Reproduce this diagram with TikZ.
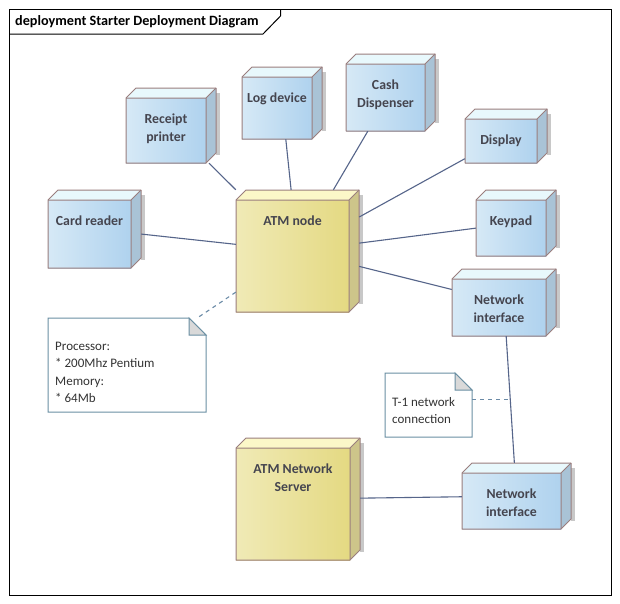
\documentclass[tikz,border=0pt]{standalone}
\usepackage{fontspec}
\setmainfont{Carlito}
\usetikzlibrary{fit}
\definecolor{bluel}{HTML}{D6E9F6}
\definecolor{bluer}{HTML}{AFD2EE}
\definecolor{bluetop}{HTML}{E8F8FC}
\definecolor{blueside}{HTML}{A9C3D6}
\definecolor{yell}{HTML}{F0EAB6}
\definecolor{yelr}{HTML}{E4D982}
\definecolor{yeltop}{HTML}{FBF7C8}
\definecolor{yelside}{HTML}{CDC58A}
\definecolor{shadowc}{HTML}{C8C8C8}
\definecolor{boxborder}{HTML}{9A7E7E}
\definecolor{textc}{HTML}{45454F}
\definecolor{connc}{HTML}{56658A}
\definecolor{notec}{HTML}{6A8FA3}
\definecolor{foldc}{HTML}{D9D9D9}
\definecolor{dashc}{HTML}{6A8AA6}
\tikzset{
  boxline/.style={draw=boxborder, line width=1pt, line join=round},
  boxtext/.style={font=\bfseries\fontsize{13.8}{17.5}\selectfont, text=textc, align=center, inner sep=0pt},
  notetext/.style={font=\fontsize{13}{17.3}\selectfont, text=black!80, align=left, inner sep=0pt},
  noteline/.style={draw=notec, line width=1pt, line join=miter},
  conn/.style={draw=connc, line width=1.1pt},
  noteconn/.style={draw=dashc, line width=1.1pt, dash pattern=on 4pt off 4pt},
}
% #1 name, #2 x1, #3 y1, #4 x2, #5 y2 (front face), #6 colour kind, #7 text
\newcommand\depbox[7]{%
  \fill[shadowc] (#4+10,#3-5) rectangle (#4+14,#5-8);
  \fill[#6top] (#2,#3) -- (#2+10,#3-10) -- (#4+10,#3-10) -- (#4,#3) -- cycle;
  \fill[#6side] (#4,#3) -- (#4+10,#3-10) -- (#4+10,#5-10) -- (#4,#5) -- cycle;
  \shade[left color=#6l, right color=#6r] (#2,#3) rectangle (#4,#5);
  \draw[boxline] (#2,#3) -- (#2+10,#3-10) -- (#4+10,#3-10) -- (#4+10,#5-10) -- (#4,#5) -- (#2,#5) -- cycle;
  \draw[boxline] (#2,#3) -- (#4,#3) -- (#4,#5) (#4,#3) -- (#4+10,#3-10);
  \node[boxtext, anchor=north] (#1-t) at ({(#2+#4)/2},#3+16) {#7};
  \coordinate (#1-nw) at (#2,#3-10);
  \coordinate (#1-se) at (#4+10,#5);
  \node[fit=(#1-nw)(#1-se), inner sep=0pt] (#1) {};
}
% #1 name, #2 x1, #3 y1, #4 x2, #5 y2, #6 text y offset, #7 text
\newcommand\notebox[7]{%
  \filldraw[noteline, fill=white] (#2,#3) -- (#4-17,#3) -- (#4,#3+17) -- (#4,#5) -- (#2,#5) -- cycle;
  \filldraw[noteline, fill=foldc] (#4-17,#3) -- (#4-17,#3+17) -- (#4,#3+17) -- cycle;
  \node[notetext, anchor=north west] (#1-t) at (#2+7,#3+#6) {#7};
  \coordinate (#1-nw) at (#2,#3);
  \coordinate (#1-se) at (#4,#5);
  \node[fit=(#1-nw)(#1-se), inner sep=0pt] (#1) {};
}
\begin{document}
\begin{tikzpicture}[x=1pt,y=-1pt]
\useasboundingbox (0,0) rectangle (620,603);
\fill[white] (0,0) rectangle (620,603);
% frame
\draw[black, line width=1pt] (9,9) rectangle (611,595);
\draw[black, line width=1pt] (9,34) -- (263,34) -- (280.5,16) -- (280.5,9);
\node[font=\bfseries\fontsize{14.2}{16}\selectfont, anchor=base west, inner sep=0pt] (title) at (15,25.5) {deployment Starter Deployment Diagram};
% nodes
\depbox{rp}{126}{98}{206}{163}{blue}{Receipt\\printer}
\depbox{log}{242}{77}{312}{139}{blue}{Log device}
\depbox{cash}{346}{64}{425}{131}{blue}{Cash\\Dispenser}
\depbox{disp}{465}{119}{537}{163}{blue}{Display}
\depbox{key}{476}{200}{546}{256}{blue}{Keypad}
\depbox{nia}{452}{279}{546}{336}{blue}{Network\\interface}
\depbox{card}{48}{200}{131}{268}{blue}{Card reader}
\depbox{atm}{236}{200}{349}{312}{yel}{ATM node}
\depbox{srv}{236}{448}{350}{560}{yel}{ATM Network\\Server}
\depbox{nib}{462}{473}{561}{529}{blue}{Network\\interface}
% notes
\notebox{proc}{48}{318}{206}{412}{24}{Processor:\\* 200Mhz Pentium\\Memory:\\* 64Mb}
\notebox{tone}{385}{373}{472}{437}{24}{T-1 network\\connection}
% connectors
\draw[conn] (rp) -- (atm);
\draw[conn] (log) -- (atm);
\draw[conn] (cash) -- (atm);
\draw[conn] (disp) -- (atm);
\draw[conn] (key) -- (atm);
\draw[conn] (nia) -- (atm);
\draw[conn] (card) -- (atm);
\draw[conn] (nia) -- coordinate[pos=0.5] (tmid) (nib);
\draw[conn] (srv) -- (nib);
\draw[noteconn] (atm) -- (proc);
\draw[noteconn] (tmid -| tone.east) -- (tmid);
\end{tikzpicture}
\end{document}
